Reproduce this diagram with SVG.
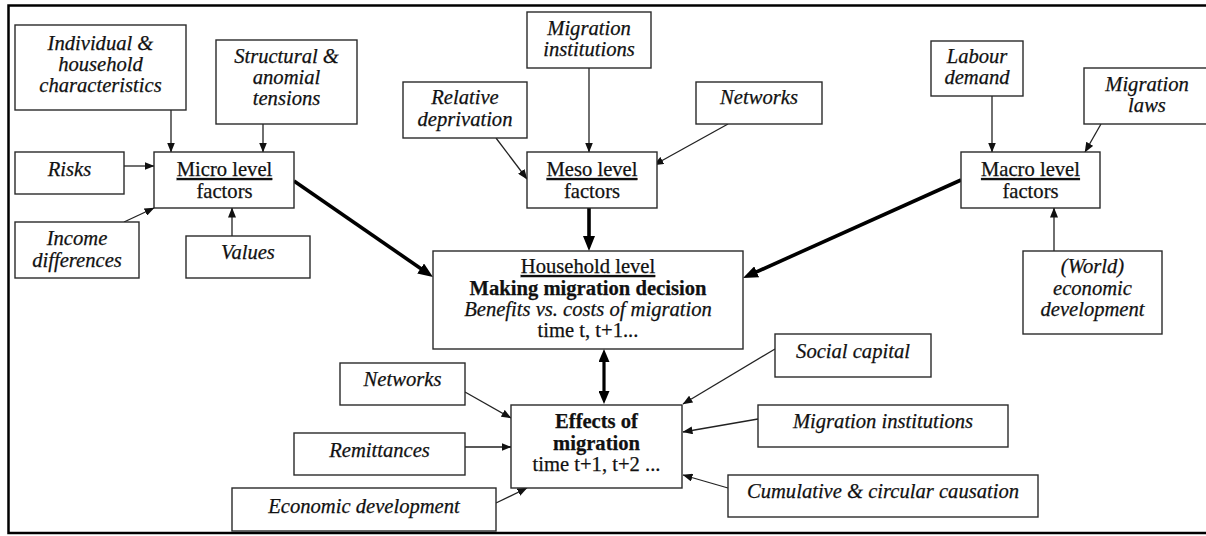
<svg xmlns="http://www.w3.org/2000/svg" width="1206" height="536" viewBox="0 0 1206 536" font-family="'Liberation Serif', 'Times New Roman', serif">
<defs>
<style>
.box{fill:#fff;stroke:#2a2a2a;stroke-width:1.4}
.t{font-family:'Liberation Serif','Times New Roman',serif;font-size:20.6px;fill:#111;stroke:#111;stroke-width:0.25;text-anchor:middle}
.i{font-style:italic}
.b{font-weight:bold}
.u{text-decoration:underline}
.thin{stroke:#222;stroke-width:1.3;fill:none;marker-end:url(#a)}
.thick{stroke:#000;stroke-width:3.6;fill:none;marker-end:url(#A)}
</style>
<marker id="a" markerUnits="userSpaceOnUse" viewBox="0 0 10 8" markerWidth="10" markerHeight="8" refX="9.5" refY="4" orient="auto"><path d="M0,0 L10,4 L0,8 z" fill="#111"/></marker>
<marker id="A" markerUnits="userSpaceOnUse" viewBox="0 0 15 12" markerWidth="15" markerHeight="12" refX="8" refY="6" orient="auto"><path d="M0,0 L15,6 L0,12 z" fill="#000"/></marker>
<marker id="D" markerUnits="userSpaceOnUse" viewBox="0 0 13 11" markerWidth="13" markerHeight="11" refX="6" refY="5.5" orient="auto-start-reverse"><path d="M0,0 L13,5.5 L0,11 z" fill="#000"/></marker>
</defs>
<rect x="8.5" y="5.5" width="1205" height="527.5" fill="none" stroke="#000" stroke-width="2.5"/>

<g id="connectors">
<line class="thin" x1="171" y1="110" x2="171" y2="152"/>
<line class="thin" x1="263" y1="124" x2="263" y2="152"/>
<line class="thin" x1="124" y1="166" x2="154" y2="166"/>
<line class="thin" x1="124" y1="222" x2="154" y2="208"/>
<line class="thin" x1="232" y1="236" x2="232" y2="208"/>
<line class="thin" x1="589" y1="68" x2="589" y2="152"/>
<line class="thin" x1="496" y1="138" x2="527" y2="179"/>
<line class="thin" x1="728" y1="124" x2="654" y2="165"/>
<line class="thin" x1="992" y1="96" x2="992" y2="152"/>
<line class="thin" x1="1101" y1="124" x2="1085" y2="152"/>
<line class="thin" x1="1054" y1="251" x2="1054" y2="208"/>
<line class="thin" x1="465" y1="392" x2="511" y2="418"/>
<line class="thin" x1="465" y1="447" x2="511" y2="447"/>
<line class="thin" x1="496" y1="503" x2="527" y2="488"/>
<line class="thin" x1="775" y1="349" x2="683" y2="404"/>
<line class="thin" x1="758" y1="419" x2="683" y2="432"/>
<line class="thin" x1="728" y1="488" x2="683" y2="475"/>
<line class="thick" x1="294" y1="181" x2="427.2" y2="273"/>
<line class="thick" x1="589" y1="208" x2="589" y2="244"/>
<line class="thick" x1="961" y1="180" x2="749.4" y2="275.1"/>
<line stroke="#000" stroke-width="3.2" x1="604" y1="356" x2="604" y2="397" marker-start="url(#D)" marker-end="url(#D)"/>
</g>

<g id="n-individual"><rect class="box" x="15" y="25" width="171" height="85"/>
<text class="t i" x="100.5" y="50">Individual &amp;</text><text class="t i" x="100.5" y="71">household</text><text class="t i" x="100.5" y="92">characteristics</text></g>
<g id="n-structural"><rect class="box" x="216" y="40" width="141" height="84"/>
<text class="t i" x="286.5" y="63">Structural &amp;</text><text class="t i" x="286.5" y="84">anomial</text><text class="t i" x="286.5" y="105">tensions</text></g>
<g id="n-risks"><rect class="box" x="15" y="152" width="109" height="42"/>
<text class="t i" x="69.5" y="176">Risks</text></g>
<g id="n-micro"><rect class="box" x="154" y="152" width="140" height="56"/>
<text class="t u" x="224.5" y="176">Micro level</text><text class="t" x="224.5" y="198">factors</text></g>
<g id="n-income"><rect class="box" x="15" y="222" width="124" height="56"/>
<text class="t i" x="77" y="245">Income</text><text class="t i" x="77" y="267">differences</text></g>
<g id="n-values"><rect class="box" x="186" y="236" width="124" height="42"/>
<text class="t i" x="248" y="259">Values</text></g>

<g id="n-miginst-top"><rect class="box" x="527" y="12" width="124" height="56"/>
<text class="t i" x="589" y="35">Migration</text><text class="t i" x="589" y="56">institutions</text></g>
<g id="n-reldep"><rect class="box" x="403" y="82" width="124" height="56"/>
<text class="t i" x="465" y="104">Relative</text><text class="t i" x="465" y="126">deprivation</text></g>
<g id="n-networks-top"><rect class="box" x="696" y="82" width="126" height="42"/>
<text class="t i" x="759" y="104">Networks</text></g>
<g id="n-meso"><rect class="box" x="527" y="152" width="130" height="56"/>
<text class="t u" x="592" y="176">Meso level</text><text class="t" x="592" y="198">factors</text></g>

<g id="n-labour"><rect class="box" x="931" y="41" width="92" height="55"/>
<text class="t i" x="977" y="63">Labour</text><text class="t i" x="977" y="84">demand</text></g>
<g id="n-miglaws"><rect class="box" x="1084" y="68" width="126" height="56"/>
<text class="t i" x="1147" y="91">Migration</text><text class="t i" x="1147" y="112">laws</text></g>
<g id="n-macro"><rect class="box" x="961" y="152" width="139" height="56"/>
<text class="t u" x="1030.5" y="176">Macro level</text><text class="t" x="1030.5" y="198">factors</text></g>
<g id="n-world"><rect class="box" x="1023" y="251" width="139" height="83"/>
<text class="t i" x="1092.5" y="273">(World)</text><text class="t i" x="1092.5" y="295">economic</text><text class="t i" x="1092.5" y="316">development</text></g>

<g id="n-household"><rect class="box" x="433" y="251" width="310" height="98"/>
<text class="t u" x="588" y="273">Household level</text>
<text class="t b" x="588" y="295">Making migration decision</text>
<text class="t i" x="588" y="316">Benefits vs. costs of migration</text>
<text class="t" x="588" y="337">time t, t+1...</text></g>

<g id="n-effects"><rect class="box" x="511" y="405" width="171" height="83"/>
<text class="t b" x="596.5" y="428">Effects of</text>
<text class="t b" x="596.5" y="450">migration</text>
<text class="t" x="596.5" y="471">time t+1, t+2 ...</text></g>

<g id="n-networks-bottom"><rect class="box" x="340" y="363" width="125" height="42"/>
<text class="t i" x="402.5" y="386">Networks</text></g>
<g id="n-remittances"><rect class="box" x="294" y="433" width="171" height="42"/>
<text class="t i" x="379.5" y="457">Remittances</text></g>
<g id="n-econdev"><rect class="box" x="232" y="488" width="264" height="43"/>
<text class="t i" x="364" y="513">Economic development</text></g>
<g id="n-social"><rect class="box" x="775" y="334" width="156" height="43"/>
<text class="t i" x="853" y="358">Social capital</text></g>
<g id="n-miginst-bottom"><rect class="box" x="758" y="405" width="250" height="42"/>
<text class="t i" x="883" y="428">Migration institutions</text></g>
<g id="n-cumulative"><rect class="box" x="728" y="475" width="310" height="42"/>
<text class="t i" x="883" y="498">Cumulative &amp; circular causation</text></g>
</svg>
